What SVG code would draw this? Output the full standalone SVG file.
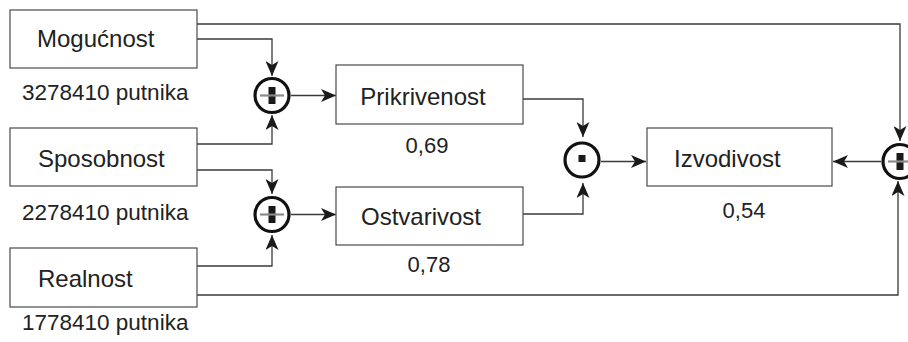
<svg xmlns="http://www.w3.org/2000/svg" width="908" height="342" viewBox="0 0 908 342">
  <defs>
    <marker id="arr" markerUnits="userSpaceOnUse" markerWidth="16" markerHeight="13" refX="15" refY="6.5" orient="auto" viewBox="0 0 16 13">
      <path d="M0,0 L15,6.5 L0,13 L4,6.5 z" fill="#1a1a1a"/>
    </marker>
  </defs>
  <style>
    .box { fill: #ffffff; stroke: #4a4a4a; stroke-width: 1.2; }
    .lbl { font-family: "Liberation Sans", Arial, sans-serif; font-size: 24px; fill: #222222; }
    .num { font-family: "Liberation Sans", Arial, sans-serif; font-size: 22px; fill: #222222; }
    .pax { font-family: "Liberation Sans", Arial, sans-serif; font-size: 22.5px; fill: #222222; }
    .conn { fill: none; stroke: #3a3a3a; stroke-width: 1.3; marker-end: url(#arr); }
    .op { fill: #ffffff; stroke: #111111; stroke-width: 3.2; }
    .bar { fill: #1a1a1a; }
    .mid { stroke: #8a8a8a; stroke-width: 2.2; }
  </style>
  <rect width="908" height="342" fill="#ffffff"/>

  <g id="connectors">
    <path class="conn" d="M197 24 H900 V141"/>
    <path class="conn" d="M197 39 H272 V76"/>
    <path class="conn" d="M197 144 H272 V115"/>
    <path class="conn" d="M197 170 H272 V194"/>
    <path class="conn" d="M197 266 H272 V235"/>
    <path class="conn" d="M197 295 H898 V181"/>
    <path class="conn" d="M291 95.5 H336"/>
    <path class="conn" d="M291 214.5 H336"/>
    <path class="conn" d="M523 99 H583 V137"/>
    <path class="conn" d="M523 214 H583 V183"/>
    <path class="conn" d="M601 161.5 H646"/>
    <path class="conn" d="M881 161.5 H833"/>
  </g>

  <g id="mogucnost">
    <rect class="box" x="10" y="10" width="187" height="58"/>
    <text class="lbl" x="37" y="47">Mogućnost</text>
    <text class="pax" x="22" y="100">3278410 putnika</text>
  </g>
  <g id="sposobnost">
    <rect class="box" x="10" y="128" width="187" height="58"/>
    <text class="lbl" x="38" y="167">Sposobnost</text>
    <text class="pax" x="22" y="220">2278410 putnika</text>
  </g>
  <g id="realnost">
    <rect class="box" x="10" y="248" width="187" height="59"/>
    <text class="lbl" x="38" y="287">Realnost</text>
    <text class="pax" x="22" y="330">1778410 putnika</text>
  </g>
  <g id="prikrivenost">
    <rect class="box" x="336" y="65" width="187" height="59"/>
    <text class="lbl" x="423" y="105" text-anchor="middle">Prikrivenost</text>
    <text class="num" x="427" y="153" text-anchor="middle">0,69</text>
  </g>
  <g id="ostvarivost">
    <rect class="box" x="336" y="187" width="187" height="58"/>
    <text class="lbl" x="421" y="225" text-anchor="middle">Ostvarivost</text>
    <text class="num" x="429" y="272" text-anchor="middle">0,78</text>
  </g>
  <g id="izvodivost">
    <rect class="box" x="647" y="128" width="185" height="58"/>
    <text class="lbl" x="674" y="167">Izvodivost</text>
    <text class="num" x="744" y="218" text-anchor="middle">0,54</text>
  </g>

  <g id="div1">
    <circle class="op" cx="272" cy="95.5" r="17"/>
    <rect class="bar" x="268.5" y="87" width="7" height="17"/>
    <line class="mid" x1="260" y1="95.5" x2="284" y2="95.5"/>
  </g>
  <g id="div2">
    <circle class="op" cx="272" cy="214.5" r="17"/>
    <rect class="bar" x="268.5" y="206" width="7" height="17"/>
    <line class="mid" x1="260" y1="214.5" x2="284" y2="214.5"/>
  </g>
  <g id="mul">
    <circle class="op" cx="582" cy="160" r="17"/>
    <rect class="bar" x="578.5" y="155" width="7" height="7"/>
  </g>
  <g id="div3">
    <circle class="op" cx="900" cy="161.5" r="17"/>
    <rect class="bar" x="896.5" y="153" width="7" height="17"/>
    <line class="mid" x1="888" y1="161.5" x2="912" y2="161.5"/>
  </g>
</svg>
